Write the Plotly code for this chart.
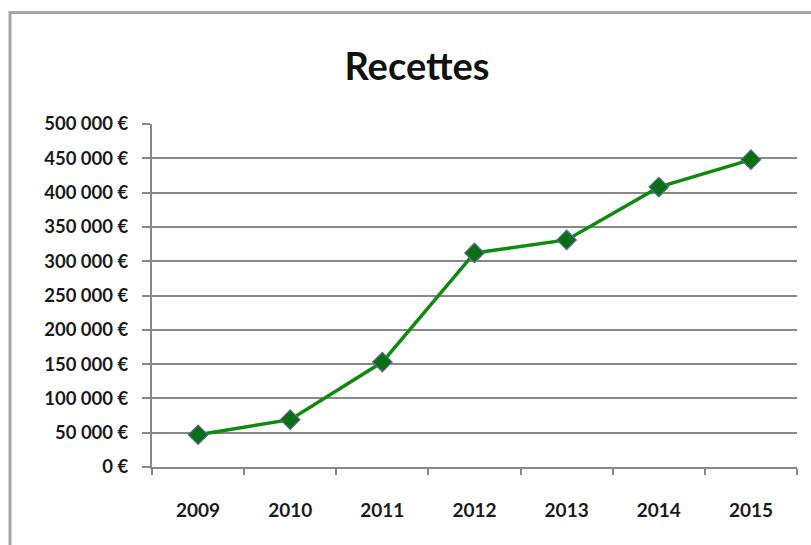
import plotly.graph_objects as go

years = ["2009", "2010", "2011", "2012", "2013", "2014", "2015"]
recettes = [47000, 69000, 153000, 312000, 331000, 408000, 448000]
y_tick_vals = [0, 50000, 100000, 150000, 200000, 250000, 300000, 350000, 400000, 450000, 500000]
y_tick_text = ["0 €", "50 000 €", "100 000 €", "150 000 €", "200 000 €", "250 000 €",
               "300 000 €", "350 000 €", "400 000 €", "450 000 €", "500 000 €"]
title_text = "Recettes"

W, H = 811, 545
L, R, T, B = 152, 797, 124, 467

fig = go.Figure()
fig.add_trace(go.Scatter(
    x=years, y=recettes, mode="lines+markers",
    line=dict(color="#0f8a0f", width=3.5),
    marker=dict(symbol="diamond", size=15, color="#0a6e12",
                line=dict(color="#5a6a9a", width=1.2)),
    showlegend=False,
))

grid_col = "#888888"
fig.update_layout(
    width=W, height=H,
    margin=dict(l=L, r=W - R, t=T, b=H - B, pad=0),
    paper_bgcolor="white", plot_bgcolor="white",
    font=dict(family="Lato", color="#1a1a1a", size=19, weight="bold"),
    title=dict(text=title_text, xref="container", yref="container",
               x=417 / W, y=1 - 67 / H, xanchor="center", yanchor="middle",
               font=dict(family="Lato", size=38, color="#111111", weight="bold")),
    xaxis=dict(
        type="category", tickson="boundaries", ticks="outside", ticklen=6,
        tickwidth=2, tickcolor=grid_col, showline=True, linecolor=grid_col,
        linewidth=2, showgrid=False, range=[-0.5, 6.5],
        ticklabelstandoff=25, tickfont=dict(size=19),
    ),
    yaxis=dict(
        range=[0, 500000], tickvals=y_tick_vals, ticktext=y_tick_text,
        ticks="outside", ticklen=8, tickwidth=2, tickcolor=grid_col,
        showline=True, linecolor=grid_col, linewidth=2,
        showgrid=True, gridcolor=grid_col, gridwidth=2.2, zeroline=False,
        ticklabelstandoff=10, tickfont=dict(size=18.5),
    ),
    shapes=[
        dict(type="rect", xref="paper", yref="paper",
             x0=(10 - L) / (R - L), x1=2.0,
             y0=-2.0, y1=(B - 12.5) / (B - T),
             line=dict(color="#a5a5a5", width=3), fillcolor="rgba(0,0,0,0)",
             layer="below"),
    ],
)

fig.write_html("out.html")
